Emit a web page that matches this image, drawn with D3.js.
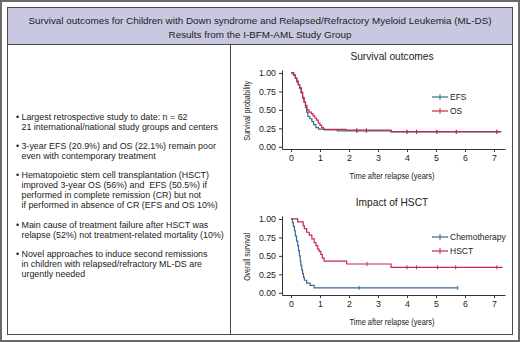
<!DOCTYPE html>
<html>
<head>
<meta charset="utf-8">
<script src="https://cdn.jsdelivr.net/npm/d3@7"></script>
<style>
  body { margin: 0; background: #fff; }
  svg text { font-family: "Liberation Sans", Arial, sans-serif; fill: #222; white-space: pre; }
</style>
</head>
<body>
<div id="chart"></div>
<script>
// header + bullet texts
var headerLines = ['Survival outcomes for Children with Down syndrome and Relapsed/Refractory Myeloid Leukemia (ML-DS)',
                   'Results from the I-BFM-AML Study Group'];
var bullets = [
  ['Largest retrospective study to date: n = 62', '21 international/national study groups and centers'],
  ['3-year EFS (20.9%) and OS (22.1%) remain poor', 'even with contemporary treatment'],
  ['Hematopoietic stem cell transplantation (HSCT)', 'improved 3-year OS (56%) and  EFS (50.5%) if', 'performed in complete remission (CR) but not', 'if performed in absence of CR (EFS and OS 10%)'],
  ['Main cause of treatment failure after HSCT was', 'relapse (52%) not treatment-related mortality (10%)'],
  ['Novel approaches to induce second remissions', 'in children with relapsed/refractory ML-DS are', 'urgently needed']
];

// axes
var xTicks = [0, 1, 2, 3, 4, 5, 6, 7];
var yTicks = [0, 0.25, 0.5, 0.75, 1];

// chart 1 : survival outcomes
var efsTime = [0, 0.1, 0.15, 0.2, 0.25, 0.3, 0.35, 0.4, 0.45, 0.5, 0.54, 0.58, 0.65, 0.72, 0.78, 0.86, 0.95, 1.15, 1.6, 3.45, 7.25];
var efsSurv = [1, 0.97, 0.93, 0.88, 0.84, 0.79, 0.73, 0.66, 0.6, 0.53, 0.47, 0.41, 0.38, 0.34, 0.3, 0.26, 0.24, 0.23, 0.215, 0.2, 0.2];
var osTime  = [0, 0.08, 0.15, 0.2, 0.25, 0.3, 0.35, 0.4, 0.45, 0.5, 0.55, 0.62, 0.7, 0.76, 0.82, 0.88, 0.94, 1.0, 1.06, 1.12, 1.9, 3.45, 7.25];
var osSurv  = [1, 0.97, 0.93, 0.89, 0.84, 0.8, 0.74, 0.67, 0.61, 0.56, 0.5, 0.47, 0.45, 0.42, 0.39, 0.36, 0.32, 0.29, 0.26, 0.235, 0.225, 0.205, 0.205];
var efsCensor = [2.27, 2.6, 4.0, 4.33, 5.03, 5.7, 7.1];
var osCensor  = [2.27, 2.6, 4.0, 4.33, 5.03, 5.7, 7.1];

// chart 2 : impact of HSCT
var chemoTime = [0, 0.05, 0.08, 0.12, 0.15, 0.19, 0.23, 0.26, 0.29, 0.32, 0.34, 0.37, 0.4, 0.43, 0.46, 0.54, 0.66, 0.8, 5.75];
var chemoSurv = [1, 0.95, 0.9, 0.84, 0.77, 0.7, 0.64, 0.57, 0.5, 0.43, 0.37, 0.31, 0.26, 0.21, 0.17, 0.13, 0.1, 0.067, 0.067];
var hsctTime  = [0, 0.23, 0.42, 0.46, 0.54, 0.63, 0.72, 0.8, 0.86, 0.92, 0.97, 1.03, 1.08, 1.14, 1.92, 3.45, 7.3];
var hsctSurv  = [1, 0.96, 0.91, 0.87, 0.82, 0.78, 0.73, 0.68, 0.64, 0.59, 0.56, 0.52, 0.47, 0.43, 0.39, 0.345, 0.345];
var chemoCensor = [2.35, 5.75];
var hsctCensor  = [2.62, 4.0, 4.33, 5.05, 5.68, 7.1];

var blueEFS = '#2c6f88';
var blueChemo = '#3b6896';
var red = '#c9284a';

var svg = d3.select('#chart').append('svg')
    .attr('width', 520)
    .attr('height', 342);

// frames
svg.append('rect').attr('x', 1).attr('y', 1).attr('width', 518).attr('height', 340)
    .attr('fill', '#fff').attr('stroke', '#6a6a6a').attr('stroke-width', 2);
svg.append('rect').attr('x', 7.5).attr('y', 7.5).attr('width', 505).attr('height', 37)
    .attr('fill', '#c8c9e1');
svg.append('rect').attr('x', 7.5).attr('y', 7.5).attr('width', 505).attr('height', 327)
    .attr('fill', 'none').attr('stroke', '#4a4a4a').attr('stroke-width', 1);
svg.append('line').attr('x1', 7.5).attr('x2', 512.5).attr('y1', 44.5).attr('y2', 44.5)
    .attr('stroke', '#4a4a4a');
svg.append('line').attr('x1', 230.5).attr('x2', 230.5).attr('y1', 44.5).attr('y2', 334.5)
    .attr('stroke', '#4a4a4a');

headerLines.forEach(function(t, i) {
  svg.append('text')
      .attr('x', 260).attr('y', 24 + i * 13.5)
      .attr('text-anchor', 'middle')
      .style('font-size', '9.9px')
      .text(t);
});

// bullets
var by = 119.5;
bullets.forEach(function(lines) {
  svg.append('text').attr('x', 16).attr('y', by).style('font-size', '8.9px').text('•');
  lines.forEach(function(l, j) {
    svg.append('text')
        .attr('x', 21.5).attr('y', by + j * 10.1)
        .style('font-size', '8.9px')
        .attr('fill', '#2a2a2a')
        .text(l);
  });
  by += (lines.length - 1) * 10.1 + 19.2;
});

var x = d3.scaleLinear().domain([-0.31, 7.38]).range([282, 505]);

function drawKM(top, title, yTitle, yTitleLen, series, legendY) {
  var y = d3.scaleLinear().domain([-0.03, 1.04]).range([top + 79, top]);

  svg.append('text')
      .attr('x', 392).attr('y', top - 10)
      .attr('text-anchor', 'middle')
      .style('font-size', '10.2px')
      .text(title);

  var xaxis = d3.axisBottom(x).tickValues(xTicks).tickSize(3).tickSizeOuter(0).tickPadding(3);
  var gx = svg.append('g').attr('transform', 'translate(0,' + (top + 79) + ')').call(xaxis);
  gx.selectAll('text').style('font-size', '8.8px').attr('fill', '#333');
  gx.selectAll('line,path').attr('stroke', '#333');

  var yaxis = d3.axisLeft(y).tickValues(yTicks).tickFormat(d3.format('.2f')).tickSize(3).tickSizeOuter(0).tickPadding(3);
  var gy = svg.append('g').attr('transform', 'translate(282,0)').call(yaxis);
  gy.selectAll('text').style('font-size', '8.8px').attr('fill', '#333');
  gy.selectAll('line,path').attr('stroke', '#333');

  svg.append('text')
      .attr('x', 392).attr('y', top + 109)
      .attr('text-anchor', 'middle')
      .attr('textLength', 85).attr('lengthAdjust', 'spacingAndGlyphs')
      .style('font-size', '9.6px')
      .text('Time after relapse (years)');

  svg.append('text')
      .attr('transform', 'translate(250,' + (y(0.5) + 1) + ') rotate(-90)')
      .attr('text-anchor', 'middle')
      .attr('textLength', yTitleLen).attr('lengthAdjust', 'spacingAndGlyphs')
      .style('font-size', '9.6px')
      .text(yTitle);

  var line = d3.line()
      .x(function(d) { return x(d[0]); })
      .y(function(d) { return y(d[1]); })
      .curve(d3.curveStepAfter);

  series.forEach(function(s, i) {
    var pts = s.time.map(function(t, k) { return [t, s.surv[k]]; });
    svg.append('path')
        .datum(pts)
        .attr('d', line)
        .attr('fill', 'none')
        .attr('stroke', s.color)
        .attr('stroke-width', 1.2);

    // censor marks
    s.censor.forEach(function(c) {
      var lvl = s.surv[d3.bisectRight(s.time, c) - 1];
      svg.append('line')
          .attr('x1', x(c)).attr('x2', x(c))
          .attr('y1', y(lvl) - 2).attr('y2', y(lvl) + 2)
          .attr('stroke', s.color).attr('stroke-width', 1);
    });

    // legend
    var ly = legendY + i * 14;
    svg.append('line').attr('x1', 432).attr('x2', 448).attr('y1', ly).attr('y2', ly)
        .attr('stroke', s.color).attr('stroke-width', 1.2);
    svg.append('line').attr('x1', 440).attr('x2', 440).attr('y1', ly - 3).attr('y2', ly + 3)
        .attr('stroke', s.color).attr('stroke-width', 1);
    svg.append('text').attr('x', 450).attr('y', ly + 3)
        .style('font-size', '8.5px')
        .text(s.name);
  });
}

drawKM(70, 'Survival outcomes', 'Survival probability', 60, [
  {name: 'EFS', time: efsTime, surv: efsSurv, censor: efsCensor, color: blueEFS},
  {name: 'OS', time: osTime, surv: osSurv, censor: osCensor, color: red}
], 97);

drawKM(216, 'Impact of HSCT', 'Overall survival', 48, [
  {name: 'Chemotherapy', time: chemoTime, surv: chemoSurv, censor: chemoCensor, color: blueChemo},
  {name: 'HSCT', time: hsctTime, surv: hsctSurv, censor: hsctCensor, color: red}
], 237);
</script>
</body>
</html>
